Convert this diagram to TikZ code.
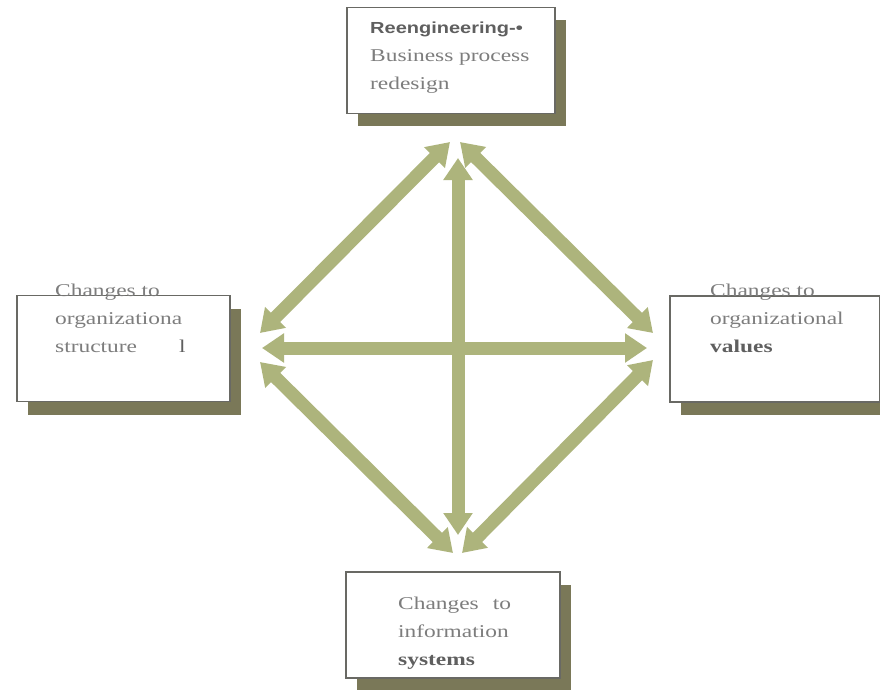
\documentclass[tikz,border=0pt]{standalone}
\usepackage{fontspec}
\usepackage{tikz}
\usetikzlibrary{positioning,arrows.meta,shadows}
\newfontfamily\boxserif[FakeStretch=1.3]{Liberation Serif}
\newfontfamily\boxsans[FakeStretch=1.25]{Liberation Sans}
\definecolor{arrowgreen}{RGB}{173,180,124}
\definecolor{shadowolive}{RGB}{122,120,88}
\definecolor{boxline}{RGB}{105,105,100}
\definecolor{textgray}{RGB}{125,125,125}
\definecolor{boldgray}{RGB}{95,95,95}

\begin{document}
\begin{tikzpicture}[x=1pt,y=-1pt,
    changebox/.style={draw=boxline,line width=1.6pt,fill=white,minimum width=#1,minimum height=106pt,inner sep=0pt,
      drop shadow={shadow xshift=11pt,shadow yshift=-13pt,fill=shadowolive,opacity=1}},
    boxtext/.style={anchor=base west,inner sep=0pt,align=left,text=textgray,font=\boxserif\fontsize{18}{28}\selectfont},
    link/.style={line width=13pt,arrowgreen,{Triangle[length=22pt,width=28pt]}-{Triangle[length=22pt,width=28pt]}}]
  \useasboundingbox[fill=white] (0,0) rectangle (880,690);

  \node[changebox=208pt] (top) at (451,60.5) {};
  \node[changebox=213pt] (lft) at (123.5,348.5) {};
  \node[changebox=210pt] (rgt) at (775,349) {};
  \node[changebox=214pt] (bot) at (453,625) {};

  \node[boxtext] (toptext) at (370,90) {{\boxsans\bfseries\fontsize{16}{28}\selectfont\color{boldgray}Reengineering-•}\\Business process\\redesign};
  \node[boxtext] (lfttext) at (55,352) {Changes to\\organizationa\\structure\hspace{42pt}{\color{boldgray}l}};
  \node[boxtext] (rgttext) at (710,352) {Changes to\\organizational\\{\bfseries\color{boldgray}values}};
  \node[boxtext] (bottext) at (398,665) {Changes\hspace{14pt}to\\information\\{\bfseries\color{boldgray}systems}};

  \coordinate (topL) at (450,142);
  \coordinate (topR) at (460,142);
  \coordinate (topC) at (458,158);
  \coordinate (lftU) at (260,333);
  \coordinate (lftC) at (262,348);
  \coordinate (lftD) at (260,362);
  \coordinate (rgtU) at (653,333);
  \coordinate (rgtC) at (647,348);
  \coordinate (rgtD) at (653,360);
  \coordinate (botL) at (453,553);
  \coordinate (botR) at (462,553);
  \coordinate (botC) at (458,535);

  \draw[link] (lftC) -- (rgtC);
  \draw[link] (topC) -- (botC);
  \draw[link] (topL) -- (lftU);
  \draw[link] (topR) -- (rgtU);
  \draw[link] (lftD) -- (botL);
  \draw[link] (rgtD) -- (botR);
\end{tikzpicture}
\end{document}
